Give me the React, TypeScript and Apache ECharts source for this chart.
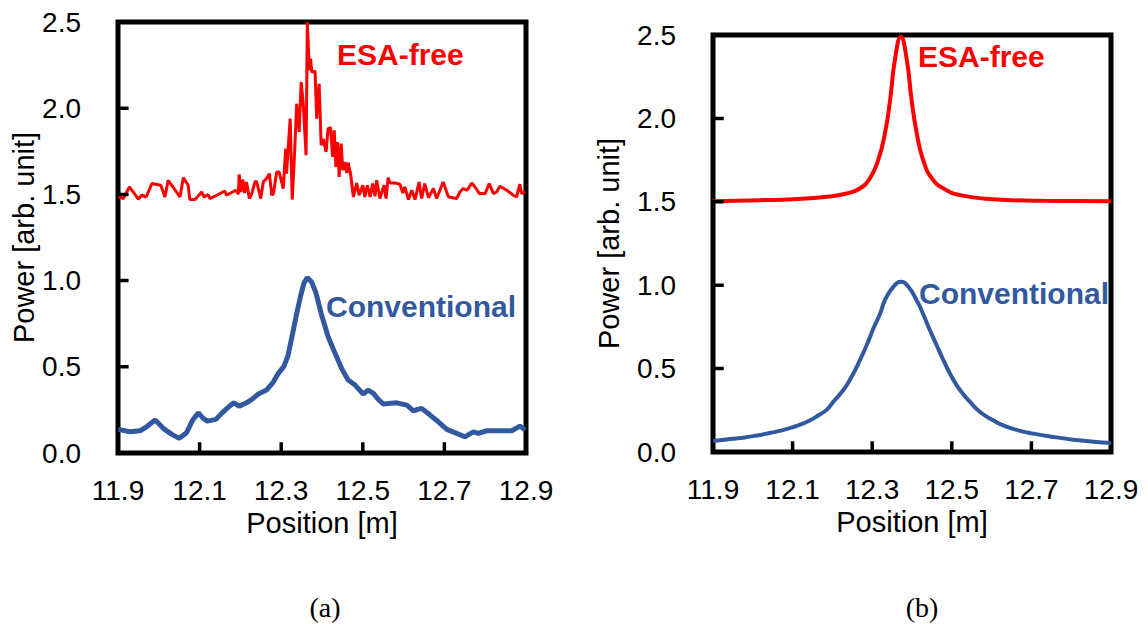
import React, { useEffect, useRef } from "react";
import * as echarts from "echarts";

// ---- tick values ----
const xTicks = [11.9, 12.1, 12.3, 12.5, 12.7, 12.9];
const yTicks = [0.5, 1.0, 1.5, 2.0];

// ---- (a) measured: ESA-free ----
const aEsaX = [
  11.901, 11.913, 11.928, 11.95, 11.958, 11.969, 11.983, 12.005, 12.015, 12.023,
  12.052, 12.06, 12.072, 12.076, 12.089, 12.105, 12.111, 12.121, 12.125, 12.142,
  12.162, 12.166, 12.189, 12.195, 12.197, 12.201, 12.206, 12.21, 12.215, 12.222,
  12.228, 12.236, 12.24, 12.25, 12.256, 12.264, 12.271, 12.277, 12.281, 12.289,
  12.295, 12.305, 12.311, 12.313, 12.322, 12.327, 12.332, 12.338, 12.344, 12.349,
  12.354, 12.361, 12.364, 12.369, 12.372, 12.375, 12.383, 12.387, 12.393, 12.398,
  12.403, 12.41, 12.415, 12.421, 12.426, 12.43, 12.434, 12.438, 12.442, 12.447,
  12.451, 12.456, 12.461, 12.464, 12.47, 12.477, 12.485, 12.491, 12.5, 12.505,
  12.511, 12.518, 12.524, 12.53, 12.534, 12.542, 12.552, 12.557, 12.562, 12.567,
  12.579, 12.591, 12.598, 12.603, 12.612, 12.62, 12.628, 12.638, 12.644, 12.652,
  12.661, 12.673, 12.681, 12.697, 12.71, 12.73, 12.738, 12.746, 12.755, 12.761,
  12.767, 12.775, 12.786, 12.8, 12.81, 12.82, 12.828, 12.836, 12.853, 12.869,
  12.877, 12.885, 12.889, 12.898,
];
const aEsaY = [
  1.489, 1.476, 1.543, 1.472, 1.495, 1.485, 1.563, 1.553, 1.485, 1.582,
  1.485, 1.597, 1.553, 1.47, 1.47, 1.514, 1.485, 1.499, 1.476, 1.495,
  1.52, 1.495, 1.524, 1.501, 1.616, 1.514, 1.586, 1.508, 1.572, 1.476,
  1.505, 1.576, 1.572, 1.476, 1.572, 1.592, 1.62, 1.495, 1.505, 1.63,
  1.63, 1.534, 1.765, 1.62, 1.939, 1.47, 1.698, 2.026, 1.862, 2.151,
  2.026, 1.727, 2.499, 2.219, 2.287, 2.209, 2.215, 1.939, 2.142, 1.785,
  1.823, 1.746, 1.881, 1.887, 1.717, 1.871, 1.659, 1.804, 1.601, 1.794,
  1.64, 1.688, 1.624, 1.684, 1.62, 1.485, 1.566, 1.495, 1.553, 1.485,
  1.553, 1.485, 1.563, 1.489, 1.582, 1.476, 1.553, 1.476, 1.597, 1.566,
  1.566, 1.559, 1.508, 1.543, 1.47, 1.524, 1.47, 1.572, 1.476, 1.563,
  1.481, 1.534, 1.476, 1.572, 1.485, 1.476, 1.514, 1.534, 1.524, 1.543,
  1.566, 1.543, 1.505, 1.505, 1.563, 1.505, 1.514, 1.547, 1.524, 1.495,
  1.485, 1.559, 1.505, 1.514,
];

// ---- (a) measured: Conventional ----
const aConvX = [
  11.901, 11.929, 11.954, 11.97, 11.991, 12.011, 12.032, 12.05, 12.068, 12.083,
  12.097, 12.109, 12.119, 12.14, 12.154, 12.17, 12.184, 12.197, 12.215, 12.228,
  12.244, 12.264, 12.281, 12.293, 12.307, 12.317, 12.328, 12.338, 12.348, 12.356,
  12.364, 12.375, 12.385, 12.399, 12.415, 12.432, 12.448, 12.464, 12.481, 12.501,
  12.513, 12.526, 12.538, 12.55, 12.583, 12.608, 12.624, 12.644, 12.665, 12.685,
  12.706, 12.73, 12.75, 12.771, 12.783, 12.804, 12.828, 12.865, 12.885, 12.898,
];
const aConvY = [
  0.137, 0.123, 0.129, 0.152, 0.191, 0.143, 0.108, 0.085, 0.118, 0.191,
  0.233, 0.201, 0.185, 0.195, 0.23, 0.265, 0.291, 0.272, 0.291, 0.311,
  0.342, 0.365, 0.413, 0.462, 0.504, 0.568, 0.693, 0.809, 0.915, 0.987,
  1.018, 0.99, 0.93, 0.8, 0.674, 0.578, 0.491, 0.423, 0.394, 0.342,
  0.365, 0.346, 0.311, 0.284, 0.291, 0.278, 0.245, 0.259, 0.22, 0.181,
  0.137, 0.114, 0.094, 0.123, 0.114, 0.129, 0.129, 0.129, 0.156, 0.133,
];

// ---- (b) simulated: ESA-free ----
const bEsaX = [
  11.9, 12.018, 12.102, 12.186, 12.236, 12.269, 12.294, 12.315, 12.332, 12.345,
  12.357, 12.372, 12.387, 12.399, 12.412, 12.428, 12.45, 12.479, 12.521, 12.604,
  12.73, 12.814, 12.9,
];
const bEsaY = [
  1.504, 1.51, 1.516, 1.53, 1.55, 1.58, 1.64, 1.75, 1.91, 2.11,
  2.35, 2.49, 2.35, 2.11, 1.91, 1.75, 1.64, 1.58, 1.54, 1.516,
  1.506, 1.505, 1.504,
];

// ---- (b) simulated: Conventional ----
const bConvX = [
  11.9, 11.934, 11.976, 12.01, 12.043, 12.073, 12.102, 12.123, 12.144, 12.165,
  12.186, 12.202, 12.227, 12.248, 12.269, 12.286, 12.303, 12.32, 12.332, 12.353,
  12.372, 12.391, 12.416, 12.424, 12.445, 12.462, 12.479, 12.5, 12.521, 12.546,
  12.571, 12.604, 12.629, 12.667, 12.705, 12.755, 12.805, 12.856, 12.9,
];
const bConvY = [
  0.066, 0.075, 0.086, 0.099, 0.114, 0.13, 0.15, 0.168, 0.19, 0.22,
  0.254, 0.3, 0.37, 0.45, 0.55, 0.64, 0.74, 0.83, 0.91, 0.99,
  1.02, 0.99, 0.89, 0.85, 0.73, 0.64, 0.55, 0.45, 0.37, 0.3,
  0.24, 0.19, 0.16, 0.13, 0.11, 0.09, 0.074, 0.062, 0.054,
];

const RED = "#FF0000";
const BLUE = "#3259A0";
const FONT = '"Liberation Sans", Arial, sans-serif';

const pair = (xs: number[], ys: number[]) => xs.map((x, i) => [x, ys[i]]);

// inward tick marks as short line segments (broken by empty points), in data units
function tickData(xLen: number, yLen: number) {
  const out: any[] = [];
  xTicks.slice(1, -1).forEach((t) => {
    out.push([t, 0], [t, yLen], [t, "-"]);
  });
  yTicks.forEach((t) => {
    out.push([11.9, t], [11.9 + xLen, t], ["-", t]);
  });
  return out;
}

function tickSeries(gi: number, xLen: number, yLen: number) {
  return {
    name: "ticks" + gi,
    type: "line",
    xAxisIndex: gi,
    yAxisIndex: gi,
    data: tickData(xLen, yLen),
    connectNulls: false,
    showSymbol: false,
    symbol: "none",
    silent: true,
    z: 20,
    clip: false,
    lineStyle: { color: "#000", width: 3.5, cap: "butt" },
    tooltip: { show: false },
  };
}

function xAxisCfg(gridIndex: number) {
  return {
    type: "value",
    gridIndex,
    min: 11.9,
    max: 12.9,
    name: "Position [m]",
    nameLocation: "middle",
    nameGap: 54,
    nameTextStyle: { fontSize: 29, color: "#000", fontFamily: FONT },
    axisLine: { show: false },
    splitLine: { show: false },
    axisTick: { show: false },
    axisLabel: {
      customValues: xTicks,
      margin: 23,
      fontSize: 28,
      color: "#000",
      fontFamily: FONT,
      formatter: (v: number) => v.toFixed(1),
    },
  };
}

function yAxisCfg(gridIndex: number, nameGap: number) {
  return {
    type: "value",
    gridIndex,
    min: 0,
    max: 2.5,
    interval: 0.5,
    name: "Power [arb. unit]",
    nameLocation: "middle",
    nameGap,
    nameTextStyle: { fontSize: 29, color: "#000", fontFamily: FONT },
    axisLine: { show: false },
    splitLine: { show: false },
    axisTick: { show: false },
    axisLabel: {
      margin: 37,
      fontSize: 28,
      color: "#000",
      fontFamily: FONT,
      formatter: (v: number) => v.toFixed(1),
    },
  };
}

function label(text: string, x: number, y: number, color: string) {
  return {
    type: "text",
    x,
    y,
    z: 10,
    style: {
      text,
      fill: color,
      fontSize: 30,
      fontWeight: "bold",
      fontFamily: FONT,
      align: "left",
      verticalAlign: "middle",
    },
  };
}

function caption(text: string, x: number, y: number) {
  return {
    type: "text",
    x,
    y,
    style: {
      text,
      fill: "#000",
      fontSize: 28,
      fontFamily: '"Liberation Serif", "Times New Roman", serif',
      align: "center",
      verticalAlign: "middle",
    },
  };
}

export default function App() {
  const ref = useRef<HTMLDivElement>(null);

  useEffect(() => {
    if (!ref.current) return;
    const chart = echarts.init(ref.current, null, { renderer: "svg" });
    chart.setOption({
      animation: false,
      backgroundColor: "#fff",
      grid: [
        { left: 118, top: 22, width: 408, height: 431, show: true, borderColor: "#000", borderWidth: 5, backgroundColor: "transparent" },
        { left: 713, top: 35, width: 398, height: 417, show: true, borderColor: "#000", borderWidth: 5, backgroundColor: "transparent" },
      ],
      xAxis: [xAxisCfg(0), xAxisCfg(1)],
      yAxis: [yAxisCfg(0, 78), yAxisCfg(1, 90)],
      series: [
        {
          name: "ESA-free (a)",
          type: "line",
          xAxisIndex: 0,
          yAxisIndex: 0,
          data: pair(aEsaX, aEsaY),
          showSymbol: false,
          symbol: "none",
          lineStyle: { color: RED, width: 3 },
        },
        {
          name: "Conventional (a)",
          type: "line",
          xAxisIndex: 0,
          yAxisIndex: 0,
          data: pair(aConvX, aConvY),
          showSymbol: false,
          symbol: "none",
          lineStyle: { color: BLUE, width: 5 },
        },
        {
          name: "ESA-free (b)",
          type: "line",
          xAxisIndex: 1,
          yAxisIndex: 1,
          data: pair(bEsaX, bEsaY),
          smooth: 0.5,
          showSymbol: false,
          symbol: "none",
          lineStyle: { color: RED, width: 4 },
        },
        {
          name: "Conventional (b)",
          type: "line",
          xAxisIndex: 1,
          yAxisIndex: 1,
          data: pair(bConvX, bConvY),
          smooth: 0.5,
          showSymbol: false,
          symbol: "none",
          lineStyle: { color: BLUE, width: 4 },
        },
        tickSeries(0, 0.026, 0.062),
        tickSeries(1, 0.027, 0.064),
      ],
      graphic: [
        label("ESA-free", 337, 54, RED),
        label("Conventional", 326, 306, BLUE),
        label("ESA-free", 918, 56, RED),
        label("Conventional", 919, 293, BLUE),
        caption("(a)", 325, 607),
        caption("(b)", 922, 607),
      ],
    });
    return () => chart.dispose();
  }, []);

  return (
    <div
      ref={ref}
      style={{ position: "absolute", left: 0, top: 0, width: 1148, height: 624 }}
    />
  );
}
